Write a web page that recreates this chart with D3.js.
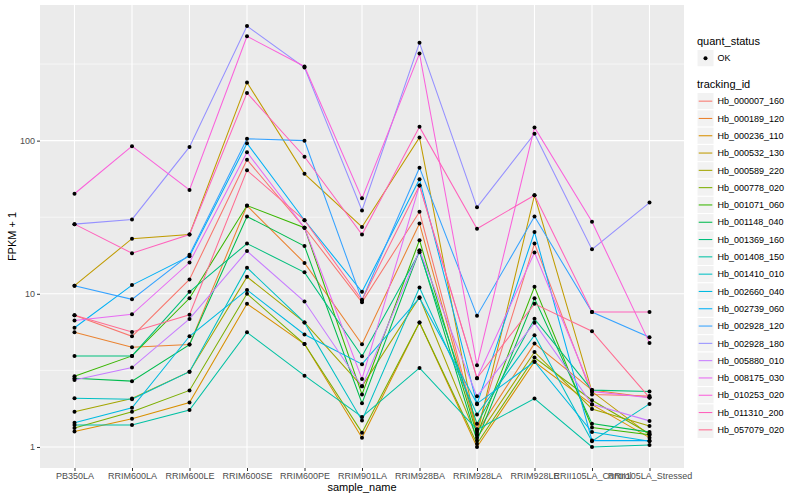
<!DOCTYPE html>
<html>
<head>
<meta charset="utf-8">
<script src="https://cdn.jsdelivr.net/npm/d3@7"></script>
<style>
  body { margin: 0; background: #fff; }
  text { font-family: "Liberation Sans", Arial, sans-serif; }
</style>
</head>
<body>
<svg id="chart"></svg>
<script>
// categories on the x axis
const samples = ['PB350LA','RRIM600LA','RRIM600LE','RRIM600SE','RRIM600PE','RRIM901LA',
  'RRIM928BA','RRIM928LA','RRIM928LE','RRII105LA_Control','RRII105LA_Stressed'];

const trackingIds = ['Hb_000007_160','Hb_000189_120','Hb_000236_110','Hb_000532_130','Hb_000589_220',
  'Hb_000778_020','Hb_001071_060','Hb_001148_040','Hb_001369_160','Hb_001408_150','Hb_001410_010',
  'Hb_002660_040','Hb_002739_060','Hb_002928_120','Hb_002928_180','Hb_005880_010','Hb_008175_030',
  'Hb_010253_020','Hb_011310_200','Hb_057079_020'];

// FPKM + 1, one array per tracking id, in the order of samples
const s000007 = [7.25, 5.28, 12.4, 75, 27, 8.8, 34.3, 1.3, 21.3, 2.2, 2.15];
const s000189 = [5.6, 4.48, 4.66, 37.6, 15.9, 4.68, 28.8, 1.25, 4.73, 2.35, 2.1];
const s000236 = [1.26, 1.53, 1.95, 8.6, 4.7, 1.15, 6.5, 1.0, 3.6, 1.89, 1.15];
const s000532 = [11.3, 22.9, 24.4, 240, 60.7, 27.3, 105, 1.2, 44, 2.3, 1.2];
const s000589 = [1.7, 2.07, 3.1, 12.9, 6.5, 2.49, 9.5, 1.15, 4.17, 1.77, 1.37];
const s000778 = [1.33, 1.7, 2.34, 10, 4.7, 1.24, 6.5, 1.05, 3.84, 2.02, 1.22];
const s001071 = [2.9, 3.93, 9.35, 37.7, 27, 2.2, 22.4, 1.2, 11.1, 1.34, 1.2];
const s001148 = [2.81, 2.69, 4.66, 32, 20.5, 1.93, 19.2, 1.1, 9.35, 1.42, 1.25];
const s001369 = [3.93, 3.93, 10.3, 21.3, 13.8, 3.91, 18.7, 1.42, 6.86, 2.35, 2.3];
const s001408 = [1.39, 1.39, 1.74, 5.6, 2.92, 1.57, 3.28, 1.3, 2.07, 1.0, 1.03];
const s001410 = [2.08, 2.05, 3.1, 14.8, 6.5, 1.49, 11.0, 1.63, 5.36, 1.09, 1.91];
const s002660 = [1.44, 1.8, 5.28, 10.6, 5.42, 3.47, 9.4, 1.92, 3.6, 1.25, 1.09];
const s002739 = [6.0, 11.4, 17.6, 96, 30.2, 10.3, 56, 1.9, 25.3, 1.1, 1.1];
const s002928a = [11.3, 9.2, 18, 103, 100, 9.1, 66.6, 7.2, 32, 7.6, 5.2];
const s002928b = [28.5, 30.6, 91, 560, 300, 35, 435, 36.7, 111, 19.5, 39.4];
const s005880 = [2.74, 3.3, 6.85, 19, 8.9, 2.49, 19.2, 2.14, 6.46, 1.9, 1.48];
const s008175 = [6.7, 7.35, 16, 84, 27, 2.78, 51, 2.81, 18.6, 2.3, 2.1];
const s010253 = [45, 92, 47.6, 480, 305, 42, 370, 3.42, 122, 29.5, 4.78];
const s011310 = [28.5, 18.4, 24.4, 205, 78.5, 24.4, 123, 26.6, 44, 7.6, 7.6];
const s057079 = [7.25, 5.63, 7.3, 64, 30.2, 9.1, 51, 2.81, 8.6, 5.7, 2.1];

const seriesValues = [s000007, s000189, s000236, s000532, s000589, s000778, s001071, s001148,
  s001369, s001408, s001410, s002660, s002739, s002928a, s002928b, s005880, s008175,
  s010253, s011310, s057079];

const colors = ['#F8766D','#EA8331','#D89000','#C09B00','#A3A500','#7CAE00','#39B600','#00BB4E',
  '#00BF7D','#00C1A3','#00BFC4','#00BAE0','#00B0F6','#35A2FF','#9590FF','#C77CFF','#E76BF3',
  '#FA62DB','#FF62BC','#FF6C91'];

const yTicks = [1, 10, 100];
const yMinor = [Math.sqrt(10), Math.sqrt(1000), Math.sqrt(100000)];

const W = 800, H = 500;
const panel = { left: 40, top: 5, right: 684, bottom: 468 };

const svg = d3.select('#chart').attr('width', W).attr('height', H);

const series = trackingIds.map((id, i) => ({
  id, color: colors[i],
  points: samples.map((s, j) => ({ sample: s, value: seriesValues[i][j] }))
}));

const allVals = seriesValues.flat();
const lo = Math.log10(d3.min(allVals)), hi = Math.log10(d3.max(allVals));
const pad = (hi - lo) * 0.05;

const x = d3.scalePoint().domain(samples).range([panel.left, panel.right]).padding(0.6);
const y = d3.scaleLog().domain([Math.pow(10, lo - pad), Math.pow(10, hi + pad)])
  .range([panel.bottom, panel.top]);

// panel background
svg.append('rect')
  .attr('x', panel.left).attr('y', panel.top)
  .attr('width', panel.right - panel.left).attr('height', panel.bottom - panel.top)
  .attr('fill', '#EBEBEB');

// grid
svg.append('g').selectAll('line').data(yMinor).join('line')
  .attr('x1', panel.left).attr('x2', panel.right)
  .attr('y1', d => y(d)).attr('y2', d => y(d))
  .attr('stroke', '#fff').attr('stroke-width', 0.55);
svg.append('g').selectAll('line').data(yTicks).join('line')
  .attr('x1', panel.left).attr('x2', panel.right)
  .attr('y1', d => y(d)).attr('y2', d => y(d))
  .attr('stroke', '#fff').attr('stroke-width', 1.1);
svg.append('g').selectAll('line').data(samples).join('line')
  .attr('x1', d => x(d)).attr('x2', d => x(d))
  .attr('y1', panel.top).attr('y2', panel.bottom)
  .attr('stroke', '#fff').attr('stroke-width', 1.1);

// lines
const line = d3.line().x(d => x(d.sample)).y(d => y(d.value));
svg.append('g').selectAll('path').data(series).join('path')
  .attr('d', d => line(d.points))
  .attr('fill', 'none')
  .attr('stroke', d => d.color)
  .attr('stroke-width', 1.05);

// points
svg.append('g').selectAll('g').data(series).join('g')
  .selectAll('circle').data(d => d.points).join('circle')
  .attr('cx', d => x(d.sample)).attr('cy', d => y(d.value))
  .attr('r', 2).attr('fill', '#000');

// axes
const yAxis = d3.axisLeft(y).tickValues(yTicks).tickFormat(d3.format('d')).tickSize(3).tickPadding(2);
const gy = svg.append('g').attr('transform', `translate(${panel.left},0)`).call(yAxis);
const xAxis = d3.axisBottom(x).tickSize(3).tickPadding(2);
const gx = svg.append('g').attr('transform', `translate(0,${panel.bottom})`).call(xAxis);
[gy, gx].forEach(g => {
  g.select('.domain').remove();
  g.selectAll('.tick line').attr('stroke', '#333').attr('stroke-width', 1);
  g.selectAll('.tick text').attr('fill', '#4D4D4D').style('font-size', '9px')
    .style('font-family', '"Liberation Sans", Arial, sans-serif');
});

// axis titles
svg.append('text').attr('x', (panel.left + panel.right) / 2).attr('y', 491)
  .attr('text-anchor', 'middle').style('font-size', '11px').attr('fill', '#000').text('sample_name');
svg.append('text').attr('transform', `translate(16,${(panel.top + panel.bottom) / 2}) rotate(-90)`)
  .attr('text-anchor', 'middle').style('font-size', '11px').attr('fill', '#000').text('FPKM + 1');

// legends
const lg = svg.append('g');
const keyX = 697, keyW = 17, keyH = 17.3;
lg.append('text').attr('x', keyX).attr('y', 45).style('font-size', '11px').text('quant_status');
lg.append('rect').attr('x', keyX).attr('y', 49.5).attr('width', keyW).attr('height', keyH)
  .attr('fill', '#F2F2F2').attr('stroke', '#fff');
lg.append('circle').attr('cx', keyX + keyW / 2).attr('cy', 49.5 + keyH / 2).attr('r', 2).attr('fill', '#000');
lg.append('text').attr('x', keyX + 20.5).attr('y', 49.5 + keyH / 2 + 3.2).style('font-size', '9px').text('OK');

lg.append('text').attr('x', keyX).attr('y', 88).style('font-size', '11px').text('tracking_id');
const items = lg.append('g').selectAll('g').data(series).join('g')
  .attr('transform', (d, i) => `translate(${keyX},${92.5 + i * keyH})`);
items.append('rect').attr('width', keyW).attr('height', keyH)
  .attr('fill', '#F2F2F2').attr('stroke', '#fff');
items.append('line').attr('x1', 1.7).attr('x2', keyW - 1.7)
  .attr('y1', keyH / 2).attr('y2', keyH / 2)
  .attr('stroke', d => d.color).attr('stroke-width', 1.05);
items.append('text').attr('x', 20.5).attr('y', keyH / 2 + 3.2).style('font-size', '9px').text(d => d.id);
</script>
</body>
</html>
